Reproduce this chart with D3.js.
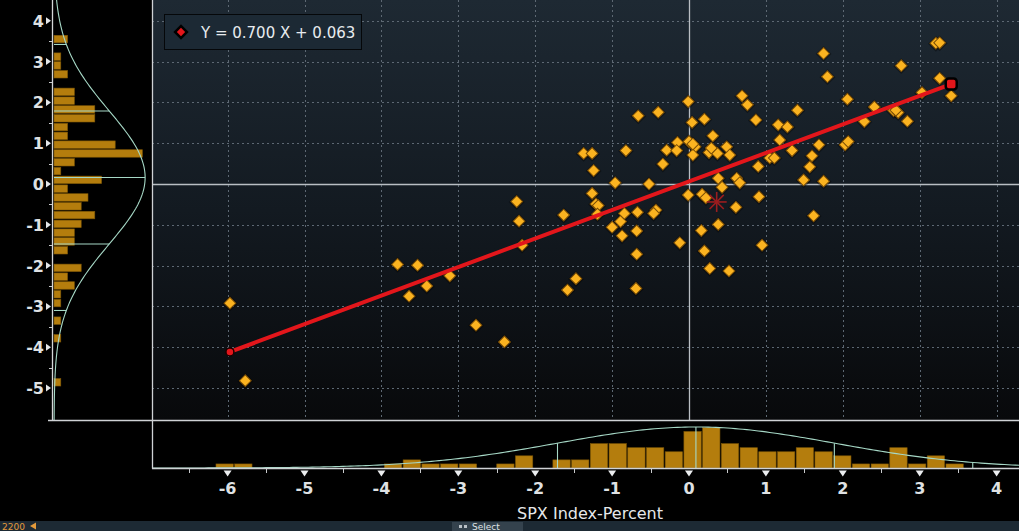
<!DOCTYPE html>
<html>
<head>
<meta charset="utf-8">
<script src="https://cdn.jsdelivr.net/npm/d3@7"></script>
<style>
  html, body { margin: 0; padding: 0; background: #000; overflow: hidden; }
  text { font-family: "DejaVu Sans", sans-serif; }
</style>
</head>
<body>
<svg id="chart" width="1019" height="531"></svg>
<script>
// Daily moves, percent: SPX Index (x) against the comparison series (y)
const spxPct = [
  -5.97, -5.77, -3.79, -3.53, -3.64, -3.41, -3.11, -2.77, -2.40, -2.24,
  -2.21, -2.17, -1.63, -1.58, -1.47, -1.26, -1.21, -1.18, -1.19, -0.96,
  -0.52, -1.00, -0.89, -0.84, -0.67, -0.43, -0.46, -0.87, -0.68, -0.68,
  -0.69, -0.12, -0.01, -0.66, -0.40, 0.69, 0.76, 1.41, 0.04, 0.20,
  0.87, 1.16, 1.28, 0.31, -1.37, -1.26, -0.82, -0.15, -0.29, -0.16,
  0.00, 0.08, 0.05, 0.26, 0.37, 0.49, 0.53, 1.18, 1.34, 1.69,
  1.60, 1.05, 1.11, 0.90, 1.57, -1.24, -0.34, 0.38, 0.43, 0.62,
  0.66, 1.49, 1.75, -0.01, 0.17, 0.91, 0.61, 0.38, 1.62, 0.16,
  0.95, 0.20, 0.27, 0.52, 3.21, 3.26, 1.75, 1.80, 2.76, 3.26,
  3.41, 3.03, 2.06, 2.41, 2.66, 2.72, 2.28, 2.84, 2.03, 2.07,
  2.69, 0.05, 0.29, 0.22
];
const otherPct = [
  -2.92, -4.82, -1.97, -1.99, -2.75, -2.50, -2.25, -3.46, -3.87, -0.43,
  -0.91, -1.50, -0.76, -2.60, -2.32, -0.23, -0.49, -0.53, -0.74, 0.03,
  0.00, -1.06, -0.92, -0.72, -0.69, -0.64, -0.72, -1.27, -1.15, -1.72,
  -2.56, -1.44, 2.02, 1.67, 1.76, 2.16, 1.94, 1.81, 1.51, 1.59,
  1.57, 1.45, 1.40, 1.18, 0.75, 0.75, 0.82, 1.02, 0.83, 0.82,
  1.04, 0.91, 0.71, 0.77, 0.75, 0.91, 0.71, 1.08, 0.82, 0.96,
  0.69, 0.64, 0.64, 0.43, 0.42, 0.33, 0.49, 0.14, -0.08, 0.14,
  0.03, 0.10, 0.07, -0.27, -0.25, -0.31, -0.57, -0.99, -0.78, -1.14,
  -1.50, -1.64, -2.07, -2.13, 3.45, 3.46, 3.20, 2.63, 2.90, 2.59,
  2.16, 2.24, 2.08, 1.89, 1.80, 1.75, 1.53, 1.54, 0.96, 1.04,
  1.81, 0.98, 0.88, -0.34
];

// Least-squares fit shown in the legend
const fitSlope = 0.700;
const fitIntercept = 0.063;
const fitLabel = "Y = 0.700 X + 0.063";
const centroid = [0.36, -0.44];

const xTicks = [-6, -5, -4, -3, -2, -1, 0, 1, 2, 3, 4];
const yTicks = [-5, -4, -3, -2, -1, 0, 1, 2, 3, 4];

// Marginal histograms (counts per bin)
const xHistStart = -6.155, xHistStep = 0.2434;
const xHistCounts = [1, 1, 0, 0, 0, 0, 0, 0, 0, 1, 2, 1, 1, 1, 0, 1, 3, 0, 2, 2,
                     6, 6, 5, 5, 4, 9, 10, 6, 5, 4, 4, 5, 4, 3, 1, 1, 5, 1, 3, 1];
const yHistTop = 3.652, yHistStep = 0.2157;
const yHistCounts = [2, 0, 1, 1, 2, 0, 3, 3, 6, 6, 2, 2, 9, 13, 3, 1, 7, 2, 5, 4,
                     6, 4, 3, 3, 2, 0, 4, 2, 3, 1, 1, 0, 1, 0, 1, 0, 0, 0, 0, 1];

// Normal fits for the marginals: mean, sd, peak height in counts
const xNormal = [0.09, 1.80, 10.1];
const yNormal = [0.16, 1.63, 13.4];
const xSigmaMarks = [-1, 0, 1, 2];
const ySigmaMarks = [-2, -1, 0, 1, 2];

// ---------------------------------------------------------------
const W = 1019, H = 531;
const plot = { left: 152, right: W, top: 0, bottom: 420 };
const sideAxisX = 52;
const histBase = 468;

const svg = d3.select("#chart");
const x = d3.scaleLinear().domain([-6, 4]).range([227.6, 996.6]);
const y = d3.scaleLinear().domain([-5, 4]).range([388, 20.8]);
const countX = d3.scaleLinear().domain([0, 13]).range([sideAxisX + 2, sideAxisX + 2 + 13 * 6.8]);
const countY = d3.scaleLinear().domain([0, 10]).range([histBase, histBase - 40.6]);

const defs = svg.append("defs");
const bg = defs.append("linearGradient").attr("id", "plotBg")
  .attr("x1", 0).attr("y1", 0).attr("x2", 0).attr("y2", 1);
bg.append("stop").attr("offset", "0%").attr("stop-color", "#1e2933");
bg.append("stop").attr("offset", "50%").attr("stop-color", "#131a21");
bg.append("stop").attr("offset", "100%").attr("stop-color", "#08090b");
defs.append("clipPath").attr("id", "plotClip").append("rect")
  .attr("x", plot.left).attr("y", plot.top)
  .attr("width", plot.right - plot.left).attr("height", plot.bottom - plot.top);
defs.append("clipPath").attr("id", "sideClip").append("rect")
  .attr("x", sideAxisX).attr("y", 0).attr("width", plot.left - sideAxisX).attr("height", plot.bottom);
defs.append("clipPath").attr("id", "bottomClip").append("rect")
  .attr("x", plot.left).attr("y", plot.bottom).attr("width", plot.right - plot.left).attr("height", histBase - plot.bottom);

svg.append("rect").attr("width", W).attr("height", H).attr("fill", "#000");

// Main plot background
svg.append("rect")
  .attr("x", plot.left).attr("y", plot.top)
  .attr("width", plot.right - plot.left).attr("height", plot.bottom - plot.top)
  .attr("fill", "url(#plotBg)");

// Grid
const grid = svg.append("g").attr("clip-path", "url(#plotClip)");
grid.selectAll("line.gx").data(xTicks.filter(d => d !== 0)).join("line")
  .attr("x1", d => Math.round(x(d)) + 0.5).attr("x2", d => Math.round(x(d)) + 0.5)
  .attr("y1", plot.top).attr("y2", plot.bottom)
  .attr("stroke", "#5d6873").attr("stroke-width", 1).attr("stroke-dasharray", "2,3");
grid.selectAll("line.gy").data(yTicks.filter(d => d !== 0)).join("line")
  .attr("y1", d => Math.round(y(d)) + 0.5).attr("y2", d => Math.round(y(d)) + 0.5)
  .attr("x1", plot.left).attr("x2", plot.right)
  .attr("stroke", "#5d6873").attr("stroke-width", 1).attr("stroke-dasharray", "2,3");
grid.append("line")
  .attr("x1", Math.round(x(0)) + 0.5).attr("x2", Math.round(x(0)) + 0.5)
  .attr("y1", plot.top).attr("y2", plot.bottom)
  .attr("stroke", "#b9bec3").attr("stroke-width", 1.3);
grid.append("line")
  .attr("y1", Math.round(y(0)) + 0.5).attr("y2", Math.round(y(0)) + 0.5)
  .attr("x1", plot.left).attr("x2", plot.right)
  .attr("stroke", "#b9bec3").attr("stroke-width", 1.3);

// Scatter
const pts = spxPct.map((v, i) => [v, otherPct[i]]);
const diamond = d3.symbol().type(d3.symbolSquare).size(70);
const scatter = svg.append("g").attr("clip-path", "url(#plotClip)");
scatter.selectAll("path.shadow").data(pts).join("path")
  .attr("d", d3.symbol().type(d3.symbolSquare).size(125))
  .attr("transform", d => `translate(${x(d[0])},${y(d[1]) + 0.5}) rotate(45)`)
  .attr("fill", "#000").attr("opacity", 0.35);
scatter.selectAll("path.pt").data(pts).join("path")
  .attr("d", diamond)
  .attr("transform", d => `translate(${x(d[0])},${y(d[1])}) rotate(45)`)
  .attr("fill", "#fbb320").attr("stroke", "#7a4d05").attr("stroke-width", 1);

// Regression line across the data range
const xMin = d3.min(spxPct), xMax = d3.max(spxPct);
const fit = v => fitSlope * v + fitIntercept;
svg.append("line")
  .attr("x1", x(xMin)).attr("y1", y(fit(xMin)))
  .attr("x2", x(xMax)).attr("y2", y(fit(xMax)))
  .attr("stroke", "#e3161b").attr("stroke-width", 4).attr("stroke-linecap", "round");
svg.append("circle")
  .attr("cx", x(xMin)).attr("cy", y(fit(xMin))).attr("r", 4)
  .attr("fill", "#e3161b").attr("stroke", "#1a0000").attr("stroke-width", 1.5);
svg.append("rect")
  .attr("x", x(xMax) - 5.5).attr("y", y(fit(xMax)) - 5.5)
  .attr("width", 11).attr("height", 11).attr("rx", 3)
  .attr("fill", "#e3161b").attr("stroke", "#000").attr("stroke-width", 2.5);

// Centroid star
const star = svg.append("g")
  .attr("transform", `translate(${x(centroid[0])},${y(centroid[1])})`);
[0, 45, 90, 135].forEach(a => {
  star.append("line")
    .attr("x1", -10).attr("x2", 10).attr("y1", 0).attr("y2", 0)
    .attr("transform", `rotate(${a})`)
    .attr("stroke", "#9c1d1f").attr("stroke-width", 1.6);
});

// Legend
const leg = svg.append("g");
leg.append("rect").attr("x", 164.5).attr("y", 14.5).attr("width", 197).attr("height", 35)
  .attr("fill", "#1c2934").attr("stroke", "#050709").attr("stroke-width", 1);
leg.append("path")
  .attr("d", d3.symbol().type(d3.symbolSquare).size(70))
  .attr("transform", "translate(181,32) rotate(45)")
  .attr("fill", "#e3161b").attr("stroke", "#000").attr("stroke-width", 2.5);
leg.append("text").attr("x", 201).attr("y", 38)
  .attr("fill", "#e8ecef").attr("font-size", 15).text(fitLabel);

// ---- Left marginal (y distribution) ----
const side = svg.append("g");
side.append("g").attr("clip-path", "url(#sideClip)")
  .selectAll("rect").data(yHistCounts).join("rect")
  .attr("x", countX(0))
  .attr("y", (d, j) => y(yHistTop - j * yHistStep) + 0.3)
  .attr("width", d => countX(d) - countX(0))
  .attr("height", (y(0) - y(yHistStep)) - 1.3)
  .attr("fill", "#b47d0d").attr("stroke", "#7d5606").attr("stroke-width", 0.6);

const yCurveVals = d3.range(-5.8, 4.6, 0.05);
const yDens = v => yNormal[2] * Math.exp(-0.5 * ((v - yNormal[0]) / yNormal[1]) ** 2);
side.append("path")
  .datum(yCurveVals)
  .attr("d", d3.line().x(v => countX(yDens(v))).y(v => y(v)))
  .attr("fill", "none").attr("stroke", "#a6d8c6").attr("stroke-width", 1.1);
side.selectAll("line.sig").data(ySigmaMarks).join("line")
  .attr("x1", countX(0))
  .attr("x2", k => countX(yDens(yNormal[0] + k * yNormal[1])))
  .attr("y1", k => y(yNormal[0] + k * yNormal[1]))
  .attr("y2", k => y(yNormal[0] + k * yNormal[1]))
  .attr("stroke", "#a6d8c6").attr("stroke-width", 1.1);

// Left axis
side.append("line").attr("x1", sideAxisX + 0.5).attr("x2", sideAxisX + 0.5)
  .attr("y1", 0).attr("y2", plot.bottom + 0.5).attr("stroke", "#d4d6d8").attr("stroke-width", 1.3);
side.selectAll("path.tri").data(yTicks).join("path")
  .attr("d", d => `M${sideAxisX - 1},${y(d)} l-5,-3.5 l0,7 z`)
  .attr("fill", "#e4e6e8");
side.selectAll("line.minor").data(yTicks.map(d => d + 0.5).filter(d => d < 4.5)).join("line")
  .attr("x1", sideAxisX - 3).attr("x2", sideAxisX)
  .attr("y1", d => Math.round(y(d)) + 0.5).attr("y2", d => Math.round(y(d)) + 0.5)
  .attr("stroke", "#c8cacc").attr("stroke-width", 1);
side.selectAll("text").data(yTicks).join("text")
  .attr("x", sideAxisX - 8).attr("y", d => y(d) + 6)
  .attr("text-anchor", "end").attr("fill", "#dfe1e3")
  .attr("font-size", 16).attr("font-weight", "bold").text(d => d);

// ---- Bottom marginal (x distribution) ----
const bottom = svg.append("g");
bottom.append("g").attr("clip-path", "url(#bottomClip)")
  .selectAll("rect").data(xHistCounts).join("rect")
  .attr("x", (d, i) => x(xHistStart + i * xHistStep) + 0.3)
  .attr("y", d => countY(d))
  .attr("width", (x(xHistStep) - x(0)) - 1.4)
  .attr("height", d => countY(0) - countY(d))
  .attr("fill", "#b47d0d").attr("stroke", "#7d5606").attr("stroke-width", 0.6);

const xCurveVals = d3.range(-7.0, 4.35, 0.05);
const xDens = v => xNormal[2] * Math.exp(-0.5 * ((v - xNormal[0]) / xNormal[1]) ** 2);
bottom.append("path")
  .datum(xCurveVals)
  .attr("clip-path", "url(#bottomClip)")
  .attr("d", d3.line().x(v => x(v)).y(v => countY(xDens(v))))
  .attr("fill", "none").attr("stroke", "#a6d8c6").attr("stroke-width", 1.1);
bottom.selectAll("line.sig").data(xSigmaMarks).join("line")
  .attr("x1", k => x(xNormal[0] + k * xNormal[1]))
  .attr("x2", k => x(xNormal[0] + k * xNormal[1]))
  .attr("y1", countY(0))
  .attr("y2", k => countY(xDens(xNormal[0] + k * xNormal[1])))
  .attr("stroke", "#a6d8c6").attr("stroke-width", 1.1);

// Frame lines
svg.append("line").attr("x1", sideAxisX - 4).attr("x2", W)
  .attr("y1", plot.bottom + 0.5).attr("y2", plot.bottom + 0.5)
  .attr("stroke", "#cfd2d5").attr("stroke-width", 1.3);
svg.append("line").attr("x1", plot.left + 0.5).attr("x2", plot.left + 0.5)
  .attr("y1", 0).attr("y2", histBase + 0.5)
  .attr("stroke", "#cfd2d5").attr("stroke-width", 1.3);
svg.append("line").attr("x1", plot.left).attr("x2", W)
  .attr("y1", histBase + 0.5).attr("y2", histBase + 0.5)
  .attr("stroke", "#cfd2d5").attr("stroke-width", 1.5);

// Bottom axis ticks and labels
bottom.selectAll("path.tri").data(xTicks).join("path")
  .attr("d", d => `M${x(d) - 4},${histBase + 2.5} l8,0 l-4,6 z`)
  .attr("fill", "#eceef0");
bottom.selectAll("line.minor").data(xTicks.map(d => d - 0.5)).join("line")
  .attr("x1", d => Math.round(x(d)) + 0.5).attr("x2", d => Math.round(x(d)) + 0.5)
  .attr("y1", histBase + 1).attr("y2", histBase + 5)
  .attr("stroke", "#c8cacc").attr("stroke-width", 1);
bottom.selectAll("text").data(xTicks).join("text")
  .attr("x", d => x(d)).attr("y", 494)
  .attr("text-anchor", "middle").attr("fill", "#dfe1e3")
  .attr("font-size", 16).attr("font-weight", "bold").text(d => d);

svg.append("text").attr("x", 590).attr("y", 519)
  .attr("text-anchor", "middle").attr("fill", "#e6e8ea")
  .attr("font-size", 16).text("SPX Index-Percent");

// Status strip
svg.append("rect").attr("x", 0).attr("y", 521).attr("width", W).attr("height", 10).attr("fill", "#1d2a34");
svg.append("text").attr("x", 2).attr("y", 529.5).attr("fill", "#e39a3b").attr("font-size", 9).text("2200");
svg.append("path").attr("d", "M30,526 l6,-3.5 l0,7 z").attr("fill", "#e39a3b");
svg.append("rect").attr("x", 452).attr("y", 522).attr("width", 71).attr("height", 9).attr("fill", "#34424d");
svg.append("rect").attr("x", 459).attr("y", 525).attr("width", 3).attr("height", 3).attr("fill", "#b9c0c6");
svg.append("rect").attr("x", 464).attr("y", 525).attr("width", 3).attr("height", 3).attr("fill", "#b9c0c6");
svg.append("text").attr("x", 472).attr("y", 529.5).attr("fill", "#dfe3e6").attr("font-size", 9).text("Select");
</script>
</body>
</html>
